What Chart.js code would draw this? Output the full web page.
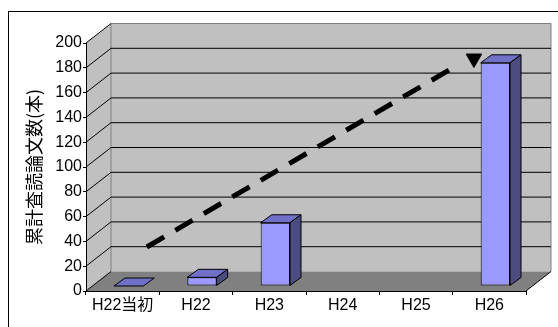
<!DOCTYPE html>
<html lang="ja">
<head>
<meta charset="UTF-8" />
<title>累計査読論文数</title>
<style>
  html, body { margin: 0; padding: 0; background: #fff; }
  canvas { display: block; }
</style>
</head>
<body>
<canvas id="myChart" width="558" height="327"></canvas>
<script src="https://cdn.jsdelivr.net/npm/chart.js"></script>
<script>
const labels = ["H22当初", "H22", "H23", "H24", "H25", "H26"];
const papers = [0, 7, 51, null, null, 180];
const yMin = 0, yMax = 200, yStep = 20;
// dashed trend line (category position, value) and its arrow head
const arrowX = [0.33, 4.59];
const arrowY = [35.5, 183];
const headX = [4.79];
const headY = [187.5];

const FONT = "'Liberation Sans', 'Noto Sans CJK JP', sans-serif";
const DX = 25, DY = -19.5; // depth of walls / floor
const BX = 6, BY = -5; // bar front face pushed back into the box
const BDX = 11, BDY = -8; // depth of one bar

function poly(ctx, pts, fill, stroke) {
  ctx.beginPath();
  ctx.moveTo(pts[0][0], pts[0][1]);
  for (let i = 1; i < pts.length; i++) ctx.lineTo(pts[i][0], pts[i][1]);
  ctx.closePath();
  if (fill) { ctx.fillStyle = fill; ctx.fill(); }
  if (stroke) { ctx.strokeStyle = stroke; ctx.lineWidth = 1; ctx.stroke(); }
}

function line(ctx, x1, y1, x2, y2, color) {
  ctx.beginPath();
  ctx.moveTo(x1, y1);
  ctx.lineTo(x2, y2);
  ctx.strokeStyle = color;
  ctx.lineWidth = 1;
  ctx.stroke();
}

// gray walls, floor and gridlines of the 3d box
const walls = {
  id: "walls",
  beforeDraw(chart) {
    const { ctx, chartArea: a } = chart;
    const y = chart.scales.y;
    const y0 = y.getPixelForValue(yMin);
    const yT = y.getPixelForValue(yMax);
    ctx.save();
    ctx.fillStyle = "#fff";
    ctx.fillRect(0, 0, chart.width, chart.height);
    ctx.strokeStyle = "#000";
    ctx.lineWidth = 1;
    ctx.strokeRect(8.5, 11.5, chart.width + 20, chart.height + 20);

    ctx.fillStyle = "#c0c0c0";
    ctx.fillRect(a.left + DX, yT + DY, a.right - a.left, y0 - yT);
    poly(ctx, [[a.left, y0], [a.left, yT], [a.left + DX, yT + DY], [a.left + DX, y0 + DY]], "#c0c0c0");
    poly(ctx, [[a.left, y0], [a.right, y0], [a.right + DX, y0 + DY], [a.left + DX, y0 + DY]], "#808080");

    // back wall outline
    line(ctx, a.left + DX, yT + DY, a.right + DX, yT + DY, "#808080");
    line(ctx, a.left + DX, yT + DY, a.left + DX, y0 + DY, "#808080");
    line(ctx, a.right + DX, yT + DY, a.right + DX, y0 + DY, "#808080");

    y.ticks.forEach((t) => {
      const p = y.getPixelForValue(t.value);
      if (t.value > yMin && t.value < yMax) line(ctx, a.left + DX, p + DY, a.right + DX, p + DY, "#000");
      line(ctx, a.left, p, a.left + DX, p + DY, "#000");
    });
    line(ctx, a.right, y0, a.right + DX, y0 + DY, "#000");
    ctx.restore();
  }
};

// bars: library draws the front face, we add top and side faces
const bars3d = {
  id: "bars3d",
  beforeDatasetDraw(chart, args) {
    if (args.meta.type !== "bar") return;
    chart.ctx.save();
    chart.ctx.translate(BX, BY);
  },
  afterDatasetDraw(chart, args) {
    if (args.meta.type !== "bar") return;
    const ctx = chart.ctx;
    args.meta.data.forEach((bar, i) => {
      if (papers[i] == null) return;
      const { x, y, base, width } = bar.getProps(["x", "y", "base", "width"], true);
      const l = x - width / 2, r = x + width / 2;
      poly(ctx, [[l, y], [r, y], [r + BDX, y + BDY], [l + BDX, y + BDY]], "#7070c8", "#000");
      if (base - y > 0.5) {
        poly(ctx, [[r, y], [r + BDX, y + BDY], [r + BDX, base + BDY], [r, base]], "#4c4c80", "#000");
      }
    });
    ctx.restore();
  }
};

new Chart(document.getElementById("myChart"), {
  type: "bar",
  data: {
    labels: labels,
    datasets: [
      {
        type: "line",
        data: headX.map((x, i) => ({ x: x, y: headY[i] })),
        xAxisID: "xa",
        yAxisID: "y",
        showLine: false,
        clip: false,
        pointStyle: "triangle",
        pointRotation: 180,
        pointRadius: 9,
        pointBackgroundColor: "#000",
        pointBorderColor: "#000",
        pointBorderWidth: 1
      },
      {
        type: "line",
        data: arrowX.map((x, i) => ({ x: x, y: arrowY[i] })),
        xAxisID: "xa",
        yAxisID: "y",
        borderColor: "#000",
        borderWidth: 5,
        borderDash: [20, 13],
        borderCapStyle: "butt",
        tension: 0,
        fill: false,
        clip: false,
        pointRadius: 0
      },
      {
        data: papers,
        xAxisID: "x",
        yAxisID: "y",
        backgroundColor: "#9999ff",
        borderColor: "#000",
        borderWidth: 1,
        borderSkipped: false,
        grouped: false,
        barPercentage: 0.4,
        categoryPercentage: 1,
        clip: false
      }
    ]
  },
  options: {
    responsive: false,
    animation: false,
    devicePixelRatio: 1,
    layout: { padding: { top: 43, right: 32, bottom: 0, left: 0 } },
    plugins: { legend: { display: false }, tooltip: { enabled: false } },
    scales: {
      x: {
        type: "category",
        afterFit: (s) => { s.height = 36; },
        grid: { drawOnChartArea: false, drawTicks: true, tickLength: 4, color: "#000" },
        border: { display: true, color: "#000", width: 1 },
        ticks: { color: "#000", padding: 1, font: { family: FONT, size: 16 } }
      },
      xa: { type: "linear", display: false, offset: false, min: -0.5, max: labels.length - 0.5 },
      y: {
        min: yMin,
        max: yMax,
        afterFit: (s) => { s.width = 86; },
        grid: { drawOnChartArea: false, drawTicks: true, tickLength: 3, color: "#000" },
        border: { display: true, color: "#000", width: 1 },
        ticks: { stepSize: yStep, color: "#000", padding: 1, font: { family: FONT, size: 16 } },
        title: {
          display: true,
          text: "累計査読論文数(本)",
          color: "#000",
          padding: { top: 23, bottom: 0 },
          font: { family: "'Noto Sans CJK JP', sans-serif", size: 18 }
        }
      }
    }
  },
  plugins: [walls, bars3d]
});
</script>
</body>
</html>
